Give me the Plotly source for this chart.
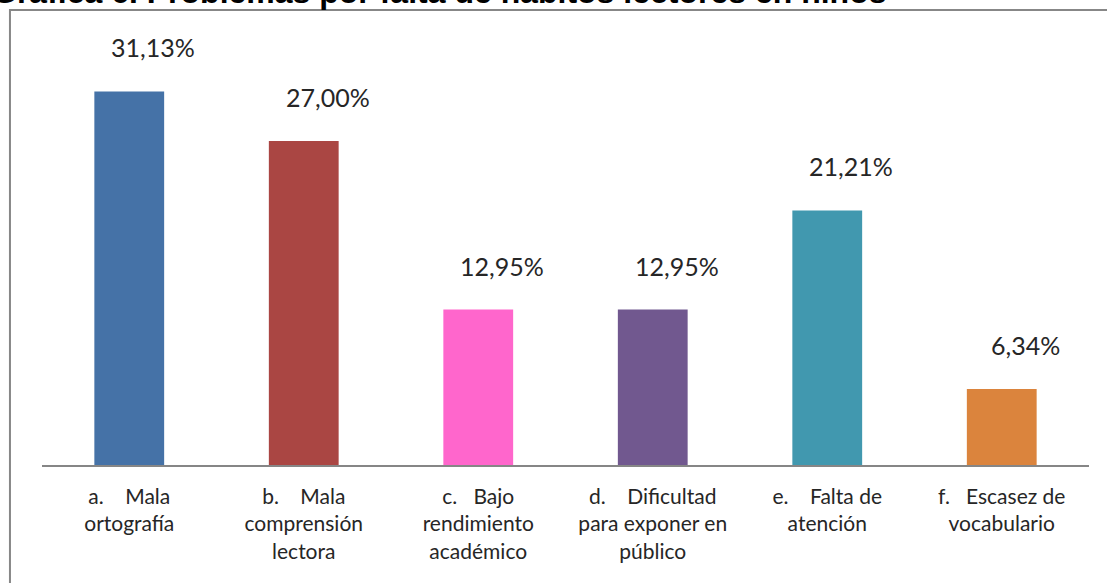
import plotly.graph_objs as go

categorias = [
    "a.\u00a0\u00a0\u00a0\u00a0Mala<br>ortografía",
    "b.\u00a0\u00a0\u00a0\u00a0Mala<br>comprensión<br>lectora",
    "c.\u00a0\u00a0\u00a0Bajo<br>rendimiento<br>académico",
    "d.\u00a0\u00a0\u00a0\u00a0Dificultad<br>para exponer en<br>público",
    "e.\u00a0\u00a0\u00a0\u00a0Falta de<br>atención",
    "f.\u00a0\u00a0\u00a0Escasez de<br>vocabulario",
]
porcentajes = [31.13, 27.00, 12.95, 12.95, 21.21, 6.34]
etiquetas = ["31,13%", "27,00%", "12,95%", "12,95%", "21,21%", "6,34%"]
colores = ["#4572A7", "#AA4643", "#FF66CC", "#71588F", "#4198AF", "#DB843D"]

fig = go.Figure(
    go.Bar(
        x=categorias,
        y=porcentajes,
        marker=dict(color=colores, line=dict(width=0)),
        width=0.4,
        showlegend=False,
        hoverinfo="skip",
    )
)

for cat, val, txt in zip(categorias, porcentajes, etiquetas):
    fig.add_annotation(
        x=cat, y=val, text=txt, showarrow=False,
        xanchor="center", yanchor="bottom",
        xshift=24, yshift=27,
        font=dict(family="Lato", size=25, color="#262626"),
    )

# titulo, cortado en el borde superior
fig.add_annotation(
    xref="paper", yref="paper", x=-0.0497, y=1.0786,
    text="<b>Gráfica 6. Problemas por falta de hábitos lectores en niños</b>",
    showarrow=False, xanchor="left", yanchor="bottom",
    font=dict(family="Liberation Sans", size=32, color="#000000"),
)

# borde del recuadro
fig.add_shape(
    type="rect", xref="paper", yref="paper",
    x0=-0.0306, x1=1.2, y0=-0.5, y1=1.0833,
    line=dict(color="#878787", width=2),
    fillcolor="rgba(0,0,0,0)",
)

fig.update_layout(
    width=1107,
    height=583,
    margin=dict(l=42, r=18, t=45, b=118),
    paper_bgcolor="white",
    plot_bgcolor="white",
    xaxis=dict(
        showline=True, linecolor="#868686", linewidth=1.5,
        showgrid=False, ticks="", ticklabelstandoff=12,
        tickfont=dict(family="Lato", size=21, color="#262626"),
    ),
    yaxis=dict(
        range=[0, 35], visible=False, showgrid=False, zeroline=False,
    ),
)

fig.write_html(
    "out.html",
    config={"displayModeBar": False},
    post_script="document.body.style.margin='0';",
)
